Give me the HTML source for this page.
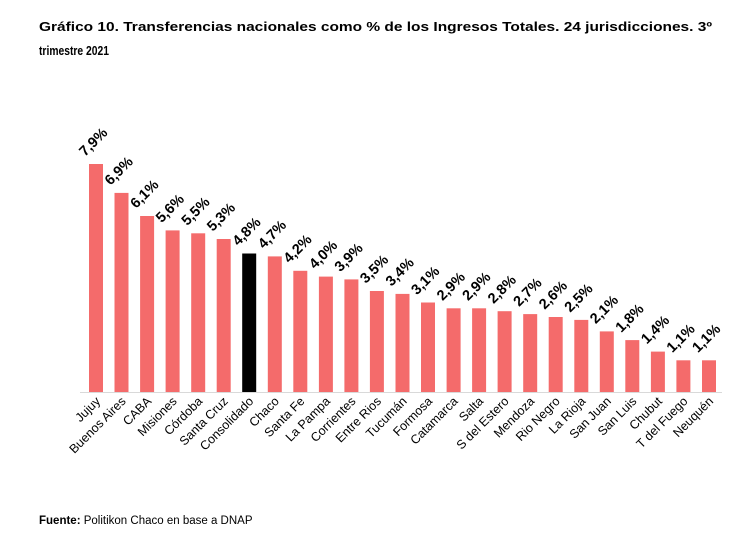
<!DOCTYPE html>
<html><head><meta charset="utf-8"><style>
body{margin:0;background:#fff;}
svg{display:block;font-family:"Liberation Sans",Arial,sans-serif;}
</style></head><body>
<svg width="750" height="539" viewBox="0 0 750 539">
<text x="39" y="31" font-size="13" font-weight="bold" textLength="673" lengthAdjust="spacingAndGlyphs">Gráfico 10. Transferencias nacionales como % de los Ingresos Totales. 24 jurisdicciones. 3º</text>
<text x="39" y="55" font-size="13" font-weight="bold" textLength="70" lengthAdjust="spacingAndGlyphs">trimestre 2021</text>
<line x1="80" y1="392.5" x2="722" y2="392.5" stroke="#d9d9d9" stroke-width="1"/>
<g id="bars"></g>
<text x="39" y="524" font-size="11.5"><tspan font-weight="bold">Fuente:</tspan> Politikon Chaco en base a DNAP</text>
</svg>
<script>
var d=[["Jujuy",7.9],["Buenos Aires",6.9],["CABA",6.1],["Misiones",5.6],["Córdoba",5.5],["Santa Cruz",5.3],["Consolidado",4.8],["Chaco",4.7],["Santa Fe",4.2],["La Pampa",4.0],["Corrientes",3.9],["Entre Rios",3.5],["Tucumán",3.4],["Formosa",3.1],["Catamarca",2.9],["Salta",2.9],["S del Estero",2.8],["Mendoza",2.7],["Rio Negro",2.6],["La Rioja",2.5],["San Juan",2.1],["San Luis",1.8],["Chubut",1.4],["T del Fuego",1.1],["Neuquén",1.1]];
var g=document.getElementById("bars"),s="";
d.forEach(function(e,i){
 var x=89+i*25.54,h=e[1]*28.86,y=392-h;
 s+='<rect x="'+x.toFixed(1)+'" y="'+y.toFixed(1)+'" width="14" height="'+h.toFixed(1)+'" fill="'+(i==6?'#000':'#f46b6b')+'"/>';
 var lx=x-4,ly=y-7;
 s+='<text x="'+lx.toFixed(1)+'" y="'+ly.toFixed(1)+'" font-size="14.5" font-weight="bold" transform="rotate(-45 '+lx.toFixed(1)+' '+ly.toFixed(1)+')">'+e[1].toFixed(1).replace(".",",")+'%</text>';
 var cx=x+12,cy=402;
 s+='<text x="'+cx.toFixed(1)+'" y="'+cy+'" font-size="12.5" text-anchor="end" transform="rotate(-45 '+cx.toFixed(1)+' '+cy+')">'+e[0]+'</text>';
});
g.innerHTML=s;
</script>
</body></html>
